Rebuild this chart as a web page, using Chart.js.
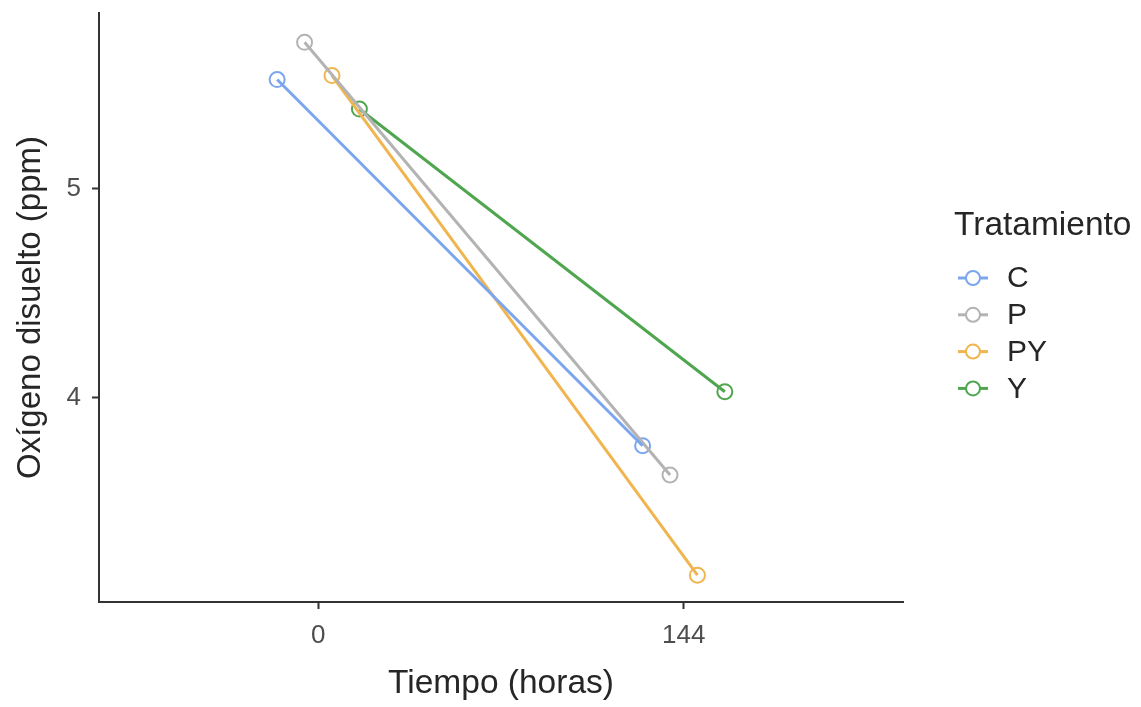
<!DOCTYPE html>
<html>
<head>
<meta charset="utf-8">
<script src="https://cdn.jsdelivr.net/npm/chart.js@4/dist/chart.umd.min.js"></script>
<style>
  html, body { margin: 0; padding: 0; background: #ffffff; }
  #wrap { width: 1141px; height: 707px; position: relative; }
</style>
</head>
<body>
<div id="wrap"><canvas id="c" width="1141" height="707"></canvas></div>
<script>
// Sampling times (discrete categories on the x axis)
const categories = ["0", "144"];
// Treatments and their colours
const treatments = ["C", "P", "PY", "Y"];
const colors = ["#7ba6ee", "#b3b3b3", "#f0b54e", "#4fa64f"];
// Dissolved oxygen (ppm) at each time, per treatment
const valuesC  = [5.522, 3.772];
const valuesP  = [5.700, 3.632];
const valuesPY = [5.541, 3.153];
const valuesY  = [5.381, 4.030];
const seriesValues = [valuesC, valuesP, valuesPY, valuesY];
// Y axis tick labels
const yTicks = [4, 5];

const FONT = "'Liberation Sans', Arial, Helvetica, sans-serif";
const AXIS = "#333333";

// Dodge the groups side by side inside each category slot
const dodgeStep = 0.075;
function dodged(catIdx, groupIdx) {
  return catIdx + 1 + (groupIdx - (treatments.length - 1) / 2) * dodgeStep;
}
function seriesPoints(g) {
  return seriesValues[g].map((v, i) => ({ x: dodged(i, g), y: v }));
}

const datasets = [];
// Lines first, so every point sits on top of every line
treatments.forEach((t, g) => {
  datasets.push({
    label: t, data: seriesPoints(g), borderColor: colors[g],
    borderWidth: 3, pointRadius: 0, showLine: true, fill: false
  });
});
treatments.forEach((t, g) => {
  datasets.push({
    label: t + " pts", data: seriesPoints(g), borderColor: colors[g],
    backgroundColor: "#ffffff", pointRadius: 7.5, pointBorderWidth: 2,
    pointBackgroundColor: "#ffffff", pointBorderColor: colors[g], showLine: false
  });
});

// Legend drawn at the right of the plot: title plus line+circle keys
const legendPlugin = {
  id: "tratLegend",
  afterDraw(chart) {
    const ctx = chart.ctx;
    ctx.save();
    ctx.fillStyle = "#262626";
    ctx.font = "33.5px " + FONT;
    ctx.textBaseline = "middle";
    ctx.textAlign = "left";
    ctx.fillText("Tratamiento", 954, 226);
    const x0 = 958, x1 = 988, cx = 973, y0 = 278, dy = 36.8;
    treatments.forEach((t, g) => {
      const y = y0 + g * dy;
      ctx.strokeStyle = colors[g];
      ctx.lineWidth = 3;
      ctx.beginPath(); ctx.moveTo(x0, y); ctx.lineTo(x1, y); ctx.stroke();
      ctx.beginPath(); ctx.arc(cx, y, 7, 0, Math.PI * 2);
      ctx.fillStyle = "#ffffff"; ctx.fill();
      ctx.lineWidth = 2; ctx.stroke();
      ctx.fillStyle = "#262626";
      ctx.font = "30px " + FONT;
      ctx.fillText(t, 1007, y + 1);
    });
    ctx.restore();
  }
};

new Chart(document.getElementById("c"), {
  type: "scatter",
  data: { datasets },
  plugins: [legendPlugin],
  options: {
    responsive: false,
    animation: false,
    events: [],
    layout: { padding: { left: 0, right: 238, top: 13, bottom: 0 } },
    plugins: { legend: { display: false }, tooltip: { enabled: false } },
    scales: {
      x: {
        type: "linear",
        min: 0.4, max: 2.6,
        afterBuildTicks(scale) {
          scale.ticks = categories.map((c, i) => ({ value: i + 1 }));
        },
        afterFit(scale) {
          scale.height = 105;
          scale.paddingLeft = 0; scale.paddingRight = 0;
        },
        ticks: {
          callback: (v) => categories[Math.round(v) - 1],
          font: { family: FONT, size: 26 },
          color: "#4d4d4d",
          padding: 11,
          maxRotation: 0
        },
        grid: {
          drawOnChartArea: false, drawTicks: true, tickLength: 7,
          tickWidth: 2, tickColor: AXIS
        },
        border: { display: true, color: AXIS, width: 2 },
        title: {
          display: true, text: "Tiempo (horas)",
          font: { family: FONT, size: 33.5 }, color: "#262626",
          padding: { top: 0, bottom: 3 }
        }
      },
      y: {
        min: 3.025, max: 5.84,
        afterBuildTicks(scale) {
          scale.ticks = yTicks.map(v => ({ value: v }));
        },
        afterFit(scale) {
          scale.width = 99;
          scale.paddingTop = 0; scale.paddingBottom = 0;
        },
        ticks: {
          font: { family: FONT, size: 26 },
          color: "#4d4d4d",
          padding: 11
        },
        grid: {
          drawOnChartArea: false, drawTicks: true, tickLength: 7,
          tickWidth: 2, tickColor: AXIS
        },
        border: { display: true, color: AXIS, width: 2 },
        title: {
          display: true, text: "Oxígeno disuelto (ppm)",
          font: { family: FONT, size: 33 }, color: "#262626",
          padding: { top: 11, bottom: 0 }
        }
      }
    }
  }
});
</script>
</body>
</html>
